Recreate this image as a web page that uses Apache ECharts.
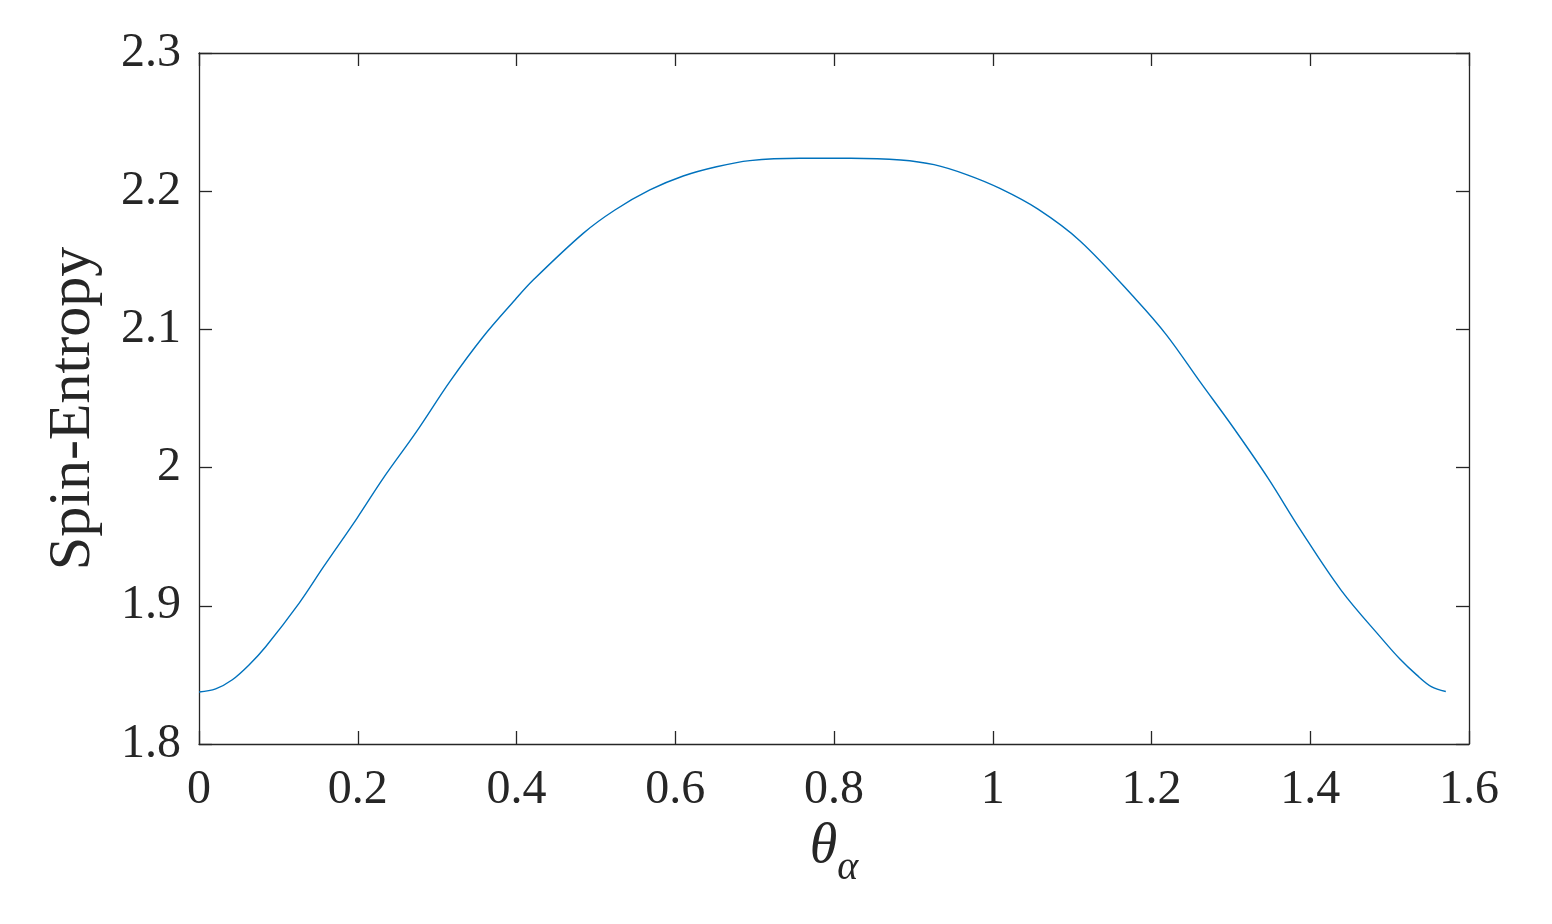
<!DOCTYPE html>
<html>
<head>
<meta charset="utf-8">
<script src="https://cdn.jsdelivr.net/npm/echarts@6/dist/echarts.min.js"></script>
<style>html,body{margin:0;padding:0;background:#fff;}#main{width:1552px;height:924px;}</style>
</head>
<body>
<div id="main"></div>
<script>
const thetaValues = [0, 0.021, 0.042, 0.063, 0.084, 0.126, 0.157, 0.199, 0.232, 0.274, 0.316, 0.358, 0.398, 0.421, 0.484, 0.524, 0.568, 0.610, 0.652, 0.694, 0.757, 0.821, 0.884, 0.926, 0.967, 1.009, 1.057, 1.110, 1.181, 1.219, 1.261, 1.303, 1.347, 1.387, 1.439, 1.492, 1.513, 1.534, 1.5525, 1.5708];
const entropyValues = [1.8376, 1.8399, 1.8465, 1.8572, 1.8704, 1.9018, 1.9283, 1.9633, 1.9922, 2.0260, 2.0622, 2.0947, 2.1213, 2.1357, 2.1695, 2.1864, 2.2009, 2.2110, 2.2177, 2.2221, 2.2238, 2.2238, 2.2226, 2.2192, 2.2120, 2.2020, 2.1870, 2.1640, 2.1213, 2.0959, 2.0622, 2.0290, 1.9922, 1.9555, 1.9112, 1.8750, 1.8615, 1.8500, 1.8415, 1.8380];
const xTicks = {min: 0, max: 1.6, interval: 0.2};
const yTicks = {min: 1.8, max: 2.3, interval: 0.1};

const chart = echarts.init(document.getElementById('main'));
const font = '"Liberation Serif", "Times New Roman", serif';
const axisColor = '#262626';
const data = thetaValues.map((t, i) => [t, entropyValues[i]]);
const fmt = v => String(Math.round(v * 10) / 10);
chart.setOption({
  animation: false,
  backgroundColor: '#fff',
  grid: {left: 199, top: 53, right: 83, bottom: 180, containLabel: false},
  xAxis: [{
    type: 'value', min: xTicks.min, max: xTicks.max, interval: xTicks.interval,
    position: 'bottom',
    name: '{t|θ}{s|α}', nameLocation: 'middle', nameGap: 68,
    nameTextStyle: {rich: {
      t: {fontFamily: font, fontStyle: 'italic', fontSize: 56, color: axisColor, verticalAlign: 'bottom'},
      s: {fontFamily: font, fontStyle: 'italic', fontSize: 40, color: axisColor, verticalAlign: 'bottom', padding: [0,0,-14,0]}
    }},
    axisLine: {show: true, onZero: false, lineStyle: {color: axisColor, width: 1.3}},
    axisTick: {show: true, inside: true, length: 13, lineStyle: {color: axisColor, width: 1.3}},
    axisLabel: {fontFamily: font, fontSize: 48, color: axisColor, margin: 22, formatter: fmt},
    splitLine: {show: false}
  }, {
    type: 'value', min: xTicks.min, max: xTicks.max, interval: xTicks.interval,
    position: 'top',
    axisLine: {show: true, onZero: false, lineStyle: {color: axisColor, width: 1.3}},
    axisTick: {show: true, inside: true, length: 13, lineStyle: {color: axisColor, width: 1.3}},
    axisLabel: {show: false}, splitLine: {show: false}
  }],
  yAxis: [{
    type: 'value', min: yTicks.min, max: yTicks.max, interval: yTicks.interval,
    position: 'left',
    name: 'Spin-Entropy', nameLocation: 'middle', nameGap: 96,
    nameTextStyle: {fontFamily: font, fontSize: 60, color: axisColor, padding: [0, 20, 0, 0]},
    axisLine: {show: true, onZero: false, lineStyle: {color: axisColor, width: 1.3}},
    axisTick: {show: true, inside: true, length: 13, lineStyle: {color: axisColor, width: 1.3}},
    axisLabel: {fontFamily: font, fontSize: 48, color: axisColor, margin: 18, formatter: fmt},
    splitLine: {show: false}
  }, {
    type: 'value', min: yTicks.min, max: yTicks.max, interval: yTicks.interval,
    position: 'right',
    axisLine: {show: true, onZero: false, lineStyle: {color: axisColor, width: 1.3}},
    axisTick: {show: true, inside: true, length: 13, lineStyle: {color: axisColor, width: 1.3}},
    axisLabel: {show: false}, splitLine: {show: false}
  }],
  series: [{
    type: 'line', data: data, xAxisIndex: 0, yAxisIndex: 0,
    smooth: 0.35, showSymbol: false,
    lineStyle: {color: '#0072BD', width: 1.4}
  }]
});
</script>
</body>
</html>
